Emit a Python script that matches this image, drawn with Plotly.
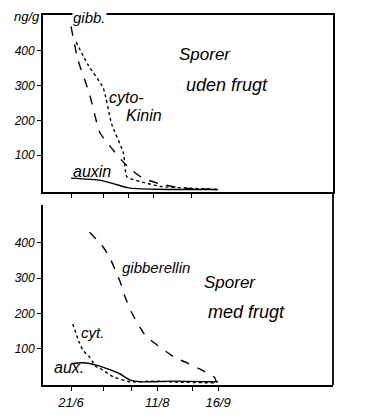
import plotly.graph_objects as go

Y = "1975-"

# --- Top panel: Sporer uden frugt ---
gibb_top_dates = ["06-21", "06-25", "07-02", "07-08", "07-15", "07-21", "07-25", "08-02", "08-12", "08-25", "09-16"]
gibb_top_vals = [470, 375, 275, 165, 120, 85, 65, 35, 18, 6, 1]

cyto_top_dates = ["06-24", "07-01", "07-10", "07-15", "07-22", "07-24", "08-01", "08-13", "08-30", "09-15"]
cyto_top_vals = [425, 360, 294, 190, 106, 38, 24, 10, 5, 1]

aux_top_dates = ["06-21", "07-08", "07-16", "07-25", "08-10", "09-16"]
aux_top_vals = [34, 28, 18, 6, 2, 1]

# --- Bottom panel: Sporer med frugt ---
gibb_bot_dates = ["07-02", "07-10", "07-14", "07-20", "07-23", "07-27", "08-03", "08-07", "08-21", "08-29", "09-04", "09-14", "09-15"]
gibb_bot_vals = [430, 388, 357, 290, 246, 201, 144, 125, 76, 59, 45, 18, 5]

cyt_bot_dates = ["06-22", "06-26", "06-28", "07-02", "07-06", "07-08", "07-16", "07-26", "08-07", "08-25", "09-14"]
cyt_bot_vals = [170, 116, 96, 76, 48, 45, 20, 6, 8, 5, 3]

aux_bot_dates = ["06-21", "06-28", "07-07", "07-19", "07-26", "08-01", "08-20", "09-16"]
aux_bot_vals = [57, 60, 52, 31, 11, 6, 8, 6]

y_ticks = [100, 200, 300, 400]
y_tick_text = ["100", "200", "300", "400"]
top_x_ticks = ["06-21", "07-10", "07-25", "08-09", "08-31"]
bot_x_ticks = ["06-21", "07-10", "07-27", "08-11", "09-01", "09-16"]
bot_x_text = ["21/6", "", "", "11/8", "", "16/9"]


def d(lst):
    return [Y + s for s in lst]


# page body has an 8px default margin; figure is sized/placed to compensate
OFF = 8
W, H = 374 - OFF, 419 - OFF


def px(x):
    return (x - OFF) / W


def py(y):
    return 1 - (y - OFF) / H


FONT = "Liberation Sans"
fig = go.Figure()

line_kw = dict(color="black", width=1.4, shape="spline", smoothing=0.5)

fig.add_trace(go.Scatter(x=d(gibb_top_dates), y=gibb_top_vals, mode="lines",
                         line=dict(dash="dash", **line_kw), xaxis="x", yaxis="y"))
fig.add_trace(go.Scatter(x=d(cyto_top_dates), y=cyto_top_vals, mode="lines",
                         line=dict(dash="dot", **line_kw), xaxis="x", yaxis="y"))
fig.add_trace(go.Scatter(x=d(aux_top_dates), y=aux_top_vals, mode="lines",
                         line=dict(dash="solid", **line_kw), xaxis="x", yaxis="y"))

fig.add_trace(go.Scatter(x=d(gibb_bot_dates), y=gibb_bot_vals, mode="lines",
                         line=dict(dash="dash", **line_kw), xaxis="x2", yaxis="y2"))
fig.add_trace(go.Scatter(x=d(cyt_bot_dates), y=cyt_bot_vals, mode="lines",
                         line=dict(dash="dot", **line_kw), xaxis="x2", yaxis="y2"))
fig.add_trace(go.Scatter(x=d(aux_bot_dates), y=aux_bot_vals, mode="lines",
                         line=dict(dash="solid", **line_kw), xaxis="x2", yaxis="y2"))

xdom = [px(43), px(333)]
xrange = ["1975-06-04 10:00", "1975-11-23"]
tickfont = dict(family=FONT, size=12, color="black")

ax_common = dict(showgrid=False, zeroline=False, showline=True, linecolor="black",
                 linewidth=1.8, ticks="outside", ticklen=4, tickcolor="black",
                 tickwidth=1.2, tickfont=tickfont)

fig.update_layout(
    width=W, height=H, autosize=False,
    margin=dict(l=0, r=0, t=0, b=0),
    paper_bgcolor="white", plot_bgcolor="white",
    showlegend=False,
    xaxis=dict(domain=xdom, range=xrange, type="date", anchor="y",
               tickvals=d(top_x_ticks), ticktext=[""] * len(top_x_ticks),
               mirror=True, **ax_common),
    yaxis=dict(domain=[py(192), py(15)], range=[-6, 503], anchor="x",
               tickvals=y_ticks, ticktext=["<i>%s</i>" % t for t in y_tick_text],
               mirror=True, **ax_common),
    xaxis2=dict(domain=xdom, range=xrange, type="date", anchor="y2",
                tickvals=d(bot_x_ticks), ticktext=["<i>%s</i>" % t for t in bot_x_text],
                **ax_common),
    yaxis2=dict(domain=[py(385), py(205)], range=[-3, 507], anchor="x2",
                tickvals=y_ticks, ticktext=["<i>%s</i>" % t for t in y_tick_text],
                **ax_common),
)
fig.update_xaxes(tickfont=dict(family=FONT, size=13, color="black"))

# right border continuing down through the lower panel
fig.add_shape(type="line", xref="paper", yref="paper",
              x0=xdom[1], x1=xdom[1], y0=py(385), y1=py(192),
              line=dict(color="black", width=1.8))


def ann(text, x, y, size=13, bg=None):
    fig.add_annotation(text=text, x=px(x), y=py(y), xref="paper", yref="paper",
                       xanchor="center", yanchor="middle", showarrow=False,
                       font=dict(family=FONT, size=size, color="black"),
                       bgcolor=bg, borderpad=0)


ann("<i>ng/g</i>", 27, 17, size=13)
ann("<i>gibb.</i>", 89, 18, size=15, bg="white")
ann("<i>cyto-</i>", 127, 98, size=16)
ann("<i>Kinin</i>", 144, 115, size=16)
ann("<i>auxin</i>", 92, 172, size=16)
ann("<i>Sporer</i>", 205, 55, size=17)
ann("<i>uden frugt</i>", 227, 85, size=18)

ann("<i>gibberellin</i>", 156, 267, size=15)
ann("<i>Sporer</i>", 230, 282, size=17)
ann("<i>med frugt</i>", 247, 312, size=18)
ann("<i>cyt.</i>", 92, 332, size=15)
ann("<i>aux.</i>", 69, 367, size=16)

fig.write_html("out.html")
